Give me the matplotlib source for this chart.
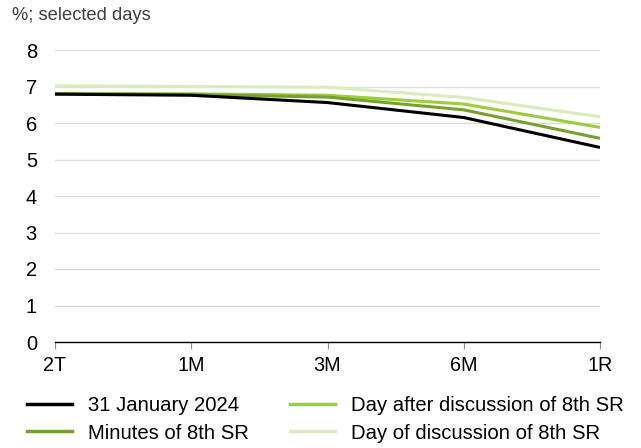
import matplotlib
matplotlib.use("Agg")
import matplotlib.pyplot as plt
from matplotlib.lines import Line2D

plt.rcParams['font.family'] = ['Liberation Sans', 'DejaVu Sans']

tenors = ["2T", "1M", "3M", "6M", "1R"]
jan_31_2024 = [6.79, 6.76, 6.56, 6.15, 5.33]
minutes_8th_sr = [6.80, 6.78, 6.71, 6.36, 5.58]
day_after_8th_sr = [6.81, 6.80, 6.76, 6.52, 5.88]
day_of_8th_sr = [7.02, 7.00, 6.98, 6.70, 6.17]

series = [
    ("31 January 2024", jan_31_2024, "#000000"),
    ("Minutes of 8th SR", minutes_8th_sr, "#76a22c"),
    ("Day after discussion of 8th SR", day_after_8th_sr, "#9ccd3a"),
    ("Day of discussion of 8th SR", day_of_8th_sr, "#d9edbb"),
]

W, H = 641, 448
fig = plt.figure(figsize=(W / 100, H / 100), dpi=100)
ax = fig.add_axes([55 / W, 1 - 342 / H, (600 - 55) / W, (342 - 50) / H])

x = list(range(len(tenors)))
# lightest curve first so the darker curves sit on top
for label, vals, color in reversed(series):
    ax.plot(x, vals, color=color, lw=2.2, solid_capstyle="butt", zorder=3)

ax.set_xlim(0, len(tenors) - 1)
ax.set_ylim(0, 8)
ax.set_yticks(range(0, 9))
ax.set_xticks(x)
ax.set_xticklabels(tenors)
ax.grid(axis="y", color="#dcdcdc", lw=1.0)
ax.set_axisbelow(True)
for s in ["top", "right", "left"]:
    ax.spines[s].set_visible(False)
ax.spines["bottom"].set_color("#000000")
ax.spines["bottom"].set_linewidth(1.0)
ax.spines["bottom"].set_zorder(4)
ax.tick_params(axis="y", length=0, pad=13, labelsize=14.5)
ax.tick_params(axis="x", length=5, width=0.8, color="#909090", pad=5, labelsize=14.2,
               direction="out")

fig.text(12 / W, 1 - 16 / H, "%; selected days", fontsize=13.2, color="#404040",
         va="center", ha="left")

# legend laid out as two columns placed side by side
fs = 14.6
cols = [(27, series[:2]), (290, series[2:])]
for left, items in cols:
    handles = [Line2D([0], [0], color=c, lw=2.5) for _, _, c in items]
    labels = [l for l, _, _ in items]
    fig.legend(handles, labels, loc="upper left",
               bbox_to_anchor=(left / W, 1 - 396 / H), frameon=False,
               fontsize=fs, handlelength=2.2, handletextpad=0.8,
               labelspacing=0.42, borderpad=0, borderaxespad=0)

fig.savefig("out.png", dpi=100)
